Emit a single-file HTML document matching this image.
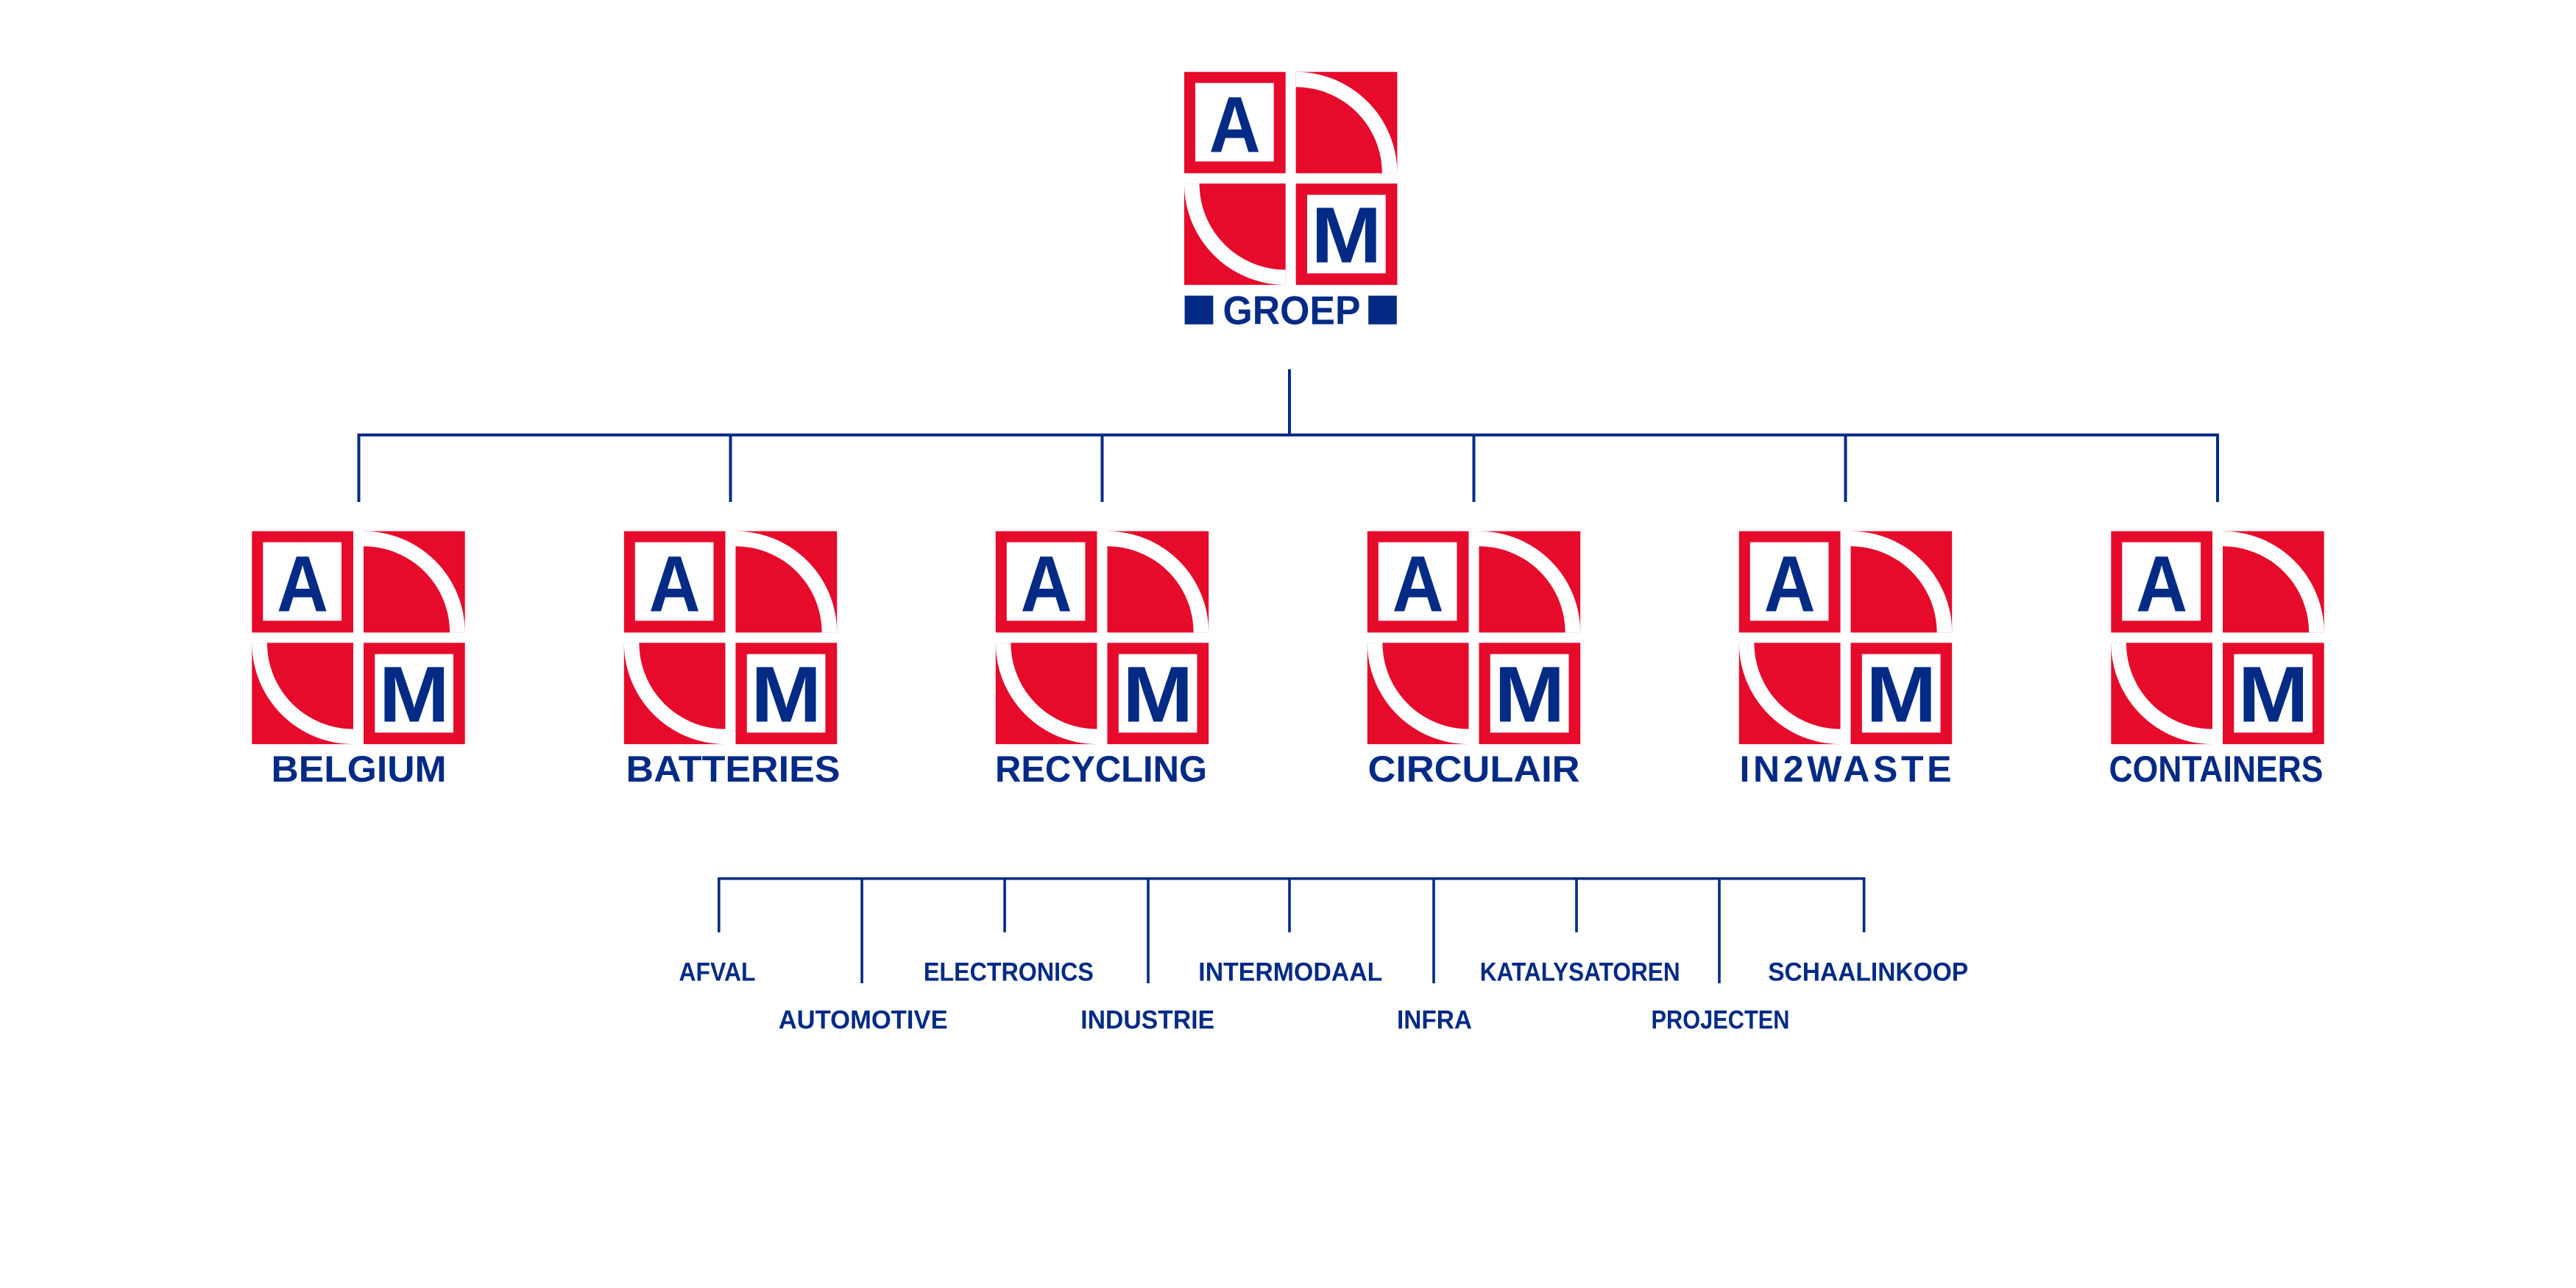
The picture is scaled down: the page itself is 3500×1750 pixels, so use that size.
<!DOCTYPE html>
<html>
<head>
<meta charset="utf-8">
<style>
html,body{margin:0;padding:0;background:#fff;}
svg{display:block;}
text{font-family:"Liberation Sans",Arial,sans-serif;font-weight:bold;fill:#032B85;}
</style>
</head>
<body>
<svg xmlns="http://www.w3.org/2000/svg" width="3500" height="1750" viewBox="0 0 3500 1750">
<rect x="0" y="0" width="3500" height="1750" fill="#fff"/>

<!-- ===== TOP LOGO ===== -->
<g transform="translate(1609,97.7)">
  <rect x="0" y="0" width="137.7" height="137.7" fill="#E60A2B"/>
  <rect x="15" y="15" width="106.7" height="106.7" fill="#fff"/>
  <text x="68.8" y="109" font-size="107.5" text-anchor="middle" textLength="70" lengthAdjust="spacingAndGlyphs">A</text>
  <rect x="151.7" y="0" width="137.7" height="137.7" fill="#E60A2B"/>
  <path d="M151.7,0 A137.7,137.7 0 0 1 289.4,137.7 L268.8,137.7 A117.1,117.1 0 0 0 151.7,20.6 Z" fill="#fff"/>
  <rect x="0" y="151.7" width="137.7" height="137.7" fill="#E60A2B"/>
  <path d="M0,151.7 A137.7,137.7 0 0 0 137.7,289.4 L137.7,268.8 A117.1,117.1 0 0 1 20.6,151.7 Z" fill="#fff"/>
  <rect x="151.7" y="151.7" width="137.7" height="137.7" fill="#E60A2B"/>
  <rect x="167" y="167" width="106.7" height="106.7" fill="#fff"/>
  <text x="220.4" y="259" font-size="107.5" text-anchor="middle" textLength="96" lengthAdjust="spacingAndGlyphs">M</text>
  <rect x="0.6" y="304" width="38.8" height="39" fill="#032B85"/>
  <rect x="250.2" y="304" width="38.6" height="39" fill="#032B85"/>
  <text x="146" y="343" font-size="55" text-anchor="middle" textLength="187" lengthAdjust="spacingAndGlyphs">GROEP</text>
</g>

<!-- ===== TOP CONNECTORS ===== -->
<g fill="#032B85">
  <rect x="1750" y="501.7" width="4" height="91"/>
  <rect x="485.5" y="589" width="2529.5" height="4"/>
  <rect x="485.5" y="589" width="4" height="93"/>
  <rect x="990.5" y="589" width="4" height="93"/>
  <rect x="1495.5" y="589" width="4" height="93"/>
  <rect x="2000.5" y="589" width="4" height="93"/>
  <rect x="2505.5" y="589" width="4" height="93"/>
  <rect x="3011" y="589" width="4" height="93"/>
</g>

<!-- ===== SUB LOGOS ===== -->
<!-- BELGIUM -->
<g transform="translate(342.3,721.7)">
  <rect x="0" y="0" width="137.7" height="137.7" fill="#E60A2B"/>
  <rect x="15" y="15" width="106.7" height="106.7" fill="#fff"/>
  <text x="68.8" y="109" font-size="107.5" text-anchor="middle" textLength="70" lengthAdjust="spacingAndGlyphs">A</text>
  <rect x="151.7" y="0" width="137.7" height="137.7" fill="#E60A2B"/>
  <path d="M151.7,0 A137.7,137.7 0 0 1 289.4,137.7 L268.8,137.7 A117.1,117.1 0 0 0 151.7,20.6 Z" fill="#fff"/>
  <rect x="0" y="151.7" width="137.7" height="137.7" fill="#E60A2B"/>
  <path d="M0,151.7 A137.7,137.7 0 0 0 137.7,289.4 L137.7,268.8 A117.1,117.1 0 0 1 20.6,151.7 Z" fill="#fff"/>
  <rect x="151.7" y="151.7" width="137.7" height="137.7" fill="#E60A2B"/>
  <rect x="167" y="167" width="106.7" height="106.7" fill="#fff"/>
  <text x="220.4" y="259" font-size="107.5" text-anchor="middle" textLength="96" lengthAdjust="spacingAndGlyphs">M</text>
</g>
<text x="487.5" y="1062" font-size="50" text-anchor="middle" textLength="238" lengthAdjust="spacingAndGlyphs">BELGIUM</text>

<!-- BATTERIES -->
<g transform="translate(847.8,721.7)">
  <rect x="0" y="0" width="137.7" height="137.7" fill="#E60A2B"/>
  <rect x="15" y="15" width="106.7" height="106.7" fill="#fff"/>
  <text x="68.8" y="109" font-size="107.5" text-anchor="middle" textLength="70" lengthAdjust="spacingAndGlyphs">A</text>
  <rect x="151.7" y="0" width="137.7" height="137.7" fill="#E60A2B"/>
  <path d="M151.7,0 A137.7,137.7 0 0 1 289.4,137.7 L268.8,137.7 A117.1,117.1 0 0 0 151.7,20.6 Z" fill="#fff"/>
  <rect x="0" y="151.7" width="137.7" height="137.7" fill="#E60A2B"/>
  <path d="M0,151.7 A137.7,137.7 0 0 0 137.7,289.4 L137.7,268.8 A117.1,117.1 0 0 1 20.6,151.7 Z" fill="#fff"/>
  <rect x="151.7" y="151.7" width="137.7" height="137.7" fill="#E60A2B"/>
  <rect x="167" y="167" width="106.7" height="106.7" fill="#fff"/>
  <text x="220.4" y="259" font-size="107.5" text-anchor="middle" textLength="96" lengthAdjust="spacingAndGlyphs">M</text>
</g>
<text x="996" y="1062" font-size="50" text-anchor="middle" textLength="291" lengthAdjust="spacingAndGlyphs">BATTERIES</text>

<!-- RECYCLING -->
<g transform="translate(1352.8,721.7)">
  <rect x="0" y="0" width="137.7" height="137.7" fill="#E60A2B"/>
  <rect x="15" y="15" width="106.7" height="106.7" fill="#fff"/>
  <text x="68.8" y="109" font-size="107.5" text-anchor="middle" textLength="70" lengthAdjust="spacingAndGlyphs">A</text>
  <rect x="151.7" y="0" width="137.7" height="137.7" fill="#E60A2B"/>
  <path d="M151.7,0 A137.7,137.7 0 0 1 289.4,137.7 L268.8,137.7 A117.1,117.1 0 0 0 151.7,20.6 Z" fill="#fff"/>
  <rect x="0" y="151.7" width="137.7" height="137.7" fill="#E60A2B"/>
  <path d="M0,151.7 A137.7,137.7 0 0 0 137.7,289.4 L137.7,268.8 A117.1,117.1 0 0 1 20.6,151.7 Z" fill="#fff"/>
  <rect x="151.7" y="151.7" width="137.7" height="137.7" fill="#E60A2B"/>
  <rect x="167" y="167" width="106.7" height="106.7" fill="#fff"/>
  <text x="220.4" y="259" font-size="107.5" text-anchor="middle" textLength="96" lengthAdjust="spacingAndGlyphs">M</text>
</g>
<text x="1496" y="1062" font-size="50" text-anchor="middle" textLength="288" lengthAdjust="spacingAndGlyphs">RECYCLING</text>

<!-- CIRCULAIR -->
<g transform="translate(1857.8,721.7)">
  <rect x="0" y="0" width="137.7" height="137.7" fill="#E60A2B"/>
  <rect x="15" y="15" width="106.7" height="106.7" fill="#fff"/>
  <text x="68.8" y="109" font-size="107.5" text-anchor="middle" textLength="70" lengthAdjust="spacingAndGlyphs">A</text>
  <rect x="151.7" y="0" width="137.7" height="137.7" fill="#E60A2B"/>
  <path d="M151.7,0 A137.7,137.7 0 0 1 289.4,137.7 L268.8,137.7 A117.1,117.1 0 0 0 151.7,20.6 Z" fill="#fff"/>
  <rect x="0" y="151.7" width="137.7" height="137.7" fill="#E60A2B"/>
  <path d="M0,151.7 A137.7,137.7 0 0 0 137.7,289.4 L137.7,268.8 A117.1,117.1 0 0 1 20.6,151.7 Z" fill="#fff"/>
  <rect x="151.7" y="151.7" width="137.7" height="137.7" fill="#E60A2B"/>
  <rect x="167" y="167" width="106.7" height="106.7" fill="#fff"/>
  <text x="220.4" y="259" font-size="107.5" text-anchor="middle" textLength="96" lengthAdjust="spacingAndGlyphs">M</text>
</g>
<text x="2002.5" y="1062" font-size="50" text-anchor="middle" textLength="288" lengthAdjust="spacingAndGlyphs">CIRCULAIR</text>

<!-- IN2WASTE -->
<g transform="translate(2362.8,721.7)">
  <rect x="0" y="0" width="137.7" height="137.7" fill="#E60A2B"/>
  <rect x="15" y="15" width="106.7" height="106.7" fill="#fff"/>
  <text x="68.8" y="109" font-size="107.5" text-anchor="middle" textLength="70" lengthAdjust="spacingAndGlyphs">A</text>
  <rect x="151.7" y="0" width="137.7" height="137.7" fill="#E60A2B"/>
  <path d="M151.7,0 A137.7,137.7 0 0 1 289.4,137.7 L268.8,137.7 A117.1,117.1 0 0 0 151.7,20.6 Z" fill="#fff"/>
  <rect x="0" y="151.7" width="137.7" height="137.7" fill="#E60A2B"/>
  <path d="M0,151.7 A137.7,137.7 0 0 0 137.7,289.4 L137.7,268.8 A117.1,117.1 0 0 1 20.6,151.7 Z" fill="#fff"/>
  <rect x="151.7" y="151.7" width="137.7" height="137.7" fill="#E60A2B"/>
  <rect x="167" y="167" width="106.7" height="106.7" fill="#fff"/>
  <text x="220.4" y="259" font-size="107.5" text-anchor="middle" textLength="96" lengthAdjust="spacingAndGlyphs">M</text>
</g>
<text x="2507.5" y="1062" font-size="50" text-anchor="middle" textLength="288" lengthAdjust="spacing">IN2WASTE</text>

<!-- CONTAINERS -->
<g transform="translate(2868.3,721.7)">
  <rect x="0" y="0" width="137.7" height="137.7" fill="#E60A2B"/>
  <rect x="15" y="15" width="106.7" height="106.7" fill="#fff"/>
  <text x="68.8" y="109" font-size="107.5" text-anchor="middle" textLength="70" lengthAdjust="spacingAndGlyphs">A</text>
  <rect x="151.7" y="0" width="137.7" height="137.7" fill="#E60A2B"/>
  <path d="M151.7,0 A137.7,137.7 0 0 1 289.4,137.7 L268.8,137.7 A117.1,117.1 0 0 0 151.7,20.6 Z" fill="#fff"/>
  <rect x="0" y="151.7" width="137.7" height="137.7" fill="#E60A2B"/>
  <path d="M0,151.7 A137.7,137.7 0 0 0 137.7,289.4 L137.7,268.8 A117.1,117.1 0 0 1 20.6,151.7 Z" fill="#fff"/>
  <rect x="151.7" y="151.7" width="137.7" height="137.7" fill="#E60A2B"/>
  <rect x="167" y="167" width="106.7" height="106.7" fill="#fff"/>
  <text x="220.4" y="259" font-size="107.5" text-anchor="middle" textLength="96" lengthAdjust="spacingAndGlyphs">M</text>
</g>
<text x="3011" y="1062" font-size="50" text-anchor="middle" textLength="291" lengthAdjust="spacingAndGlyphs">CONTAINERS</text>

<!-- ===== BOTTOM CONNECTORS ===== -->
<g fill="#032B85">
  <rect x="975" y="1192" width="1559.5" height="3.5"/>
  <rect x="975" y="1192" width="3.6" height="74.7"/>
  <rect x="1169.3" y="1192" width="3.6" height="144"/>
  <rect x="1363.3" y="1192" width="3.6" height="74.7"/>
  <rect x="1558.2" y="1192" width="3.6" height="144"/>
  <rect x="1750.2" y="1192" width="3.6" height="74.7"/>
  <rect x="1946.2" y="1192" width="3.6" height="144"/>
  <rect x="2140.2" y="1192" width="3.6" height="74.7"/>
  <rect x="2334.2" y="1192" width="3.6" height="144"/>
  <rect x="2530.8" y="1192" width="3.6" height="74.7"/>
</g>

<!-- ===== BOTTOM LABELS ===== -->
<text x="974.5" y="1332.3" font-size="35.3" text-anchor="middle" textLength="104" lengthAdjust="spacingAndGlyphs">AFVAL</text>
<text x="1370.4" y="1332.3" font-size="35.3" text-anchor="middle" textLength="231" lengthAdjust="spacingAndGlyphs">ELECTRONICS</text>
<text x="1753.3" y="1332.3" font-size="35.3" text-anchor="middle" textLength="250" lengthAdjust="spacingAndGlyphs">INTERMODAAL</text>
<text x="2146.7" y="1332.3" font-size="35.3" text-anchor="middle" textLength="272" lengthAdjust="spacingAndGlyphs">KATALYSATOREN</text>
<text x="2538.2" y="1332.3" font-size="35.3" text-anchor="middle" textLength="272" lengthAdjust="spacingAndGlyphs">SCHAALINKOOP</text>

<text x="1172.7" y="1397.7" font-size="35.3" text-anchor="middle" textLength="230" lengthAdjust="spacingAndGlyphs">AUTOMOTIVE</text>
<text x="1559.2" y="1397.7" font-size="35.3" text-anchor="middle" textLength="182" lengthAdjust="spacingAndGlyphs">INDUSTRIE</text>
<text x="1949" y="1397.7" font-size="35.3" text-anchor="middle" textLength="102" lengthAdjust="spacingAndGlyphs">INFRA</text>
<text x="2337.5" y="1397.7" font-size="35.3" text-anchor="middle" textLength="188" lengthAdjust="spacingAndGlyphs">PROJECTEN</text>
</svg>
</body>
</html>
